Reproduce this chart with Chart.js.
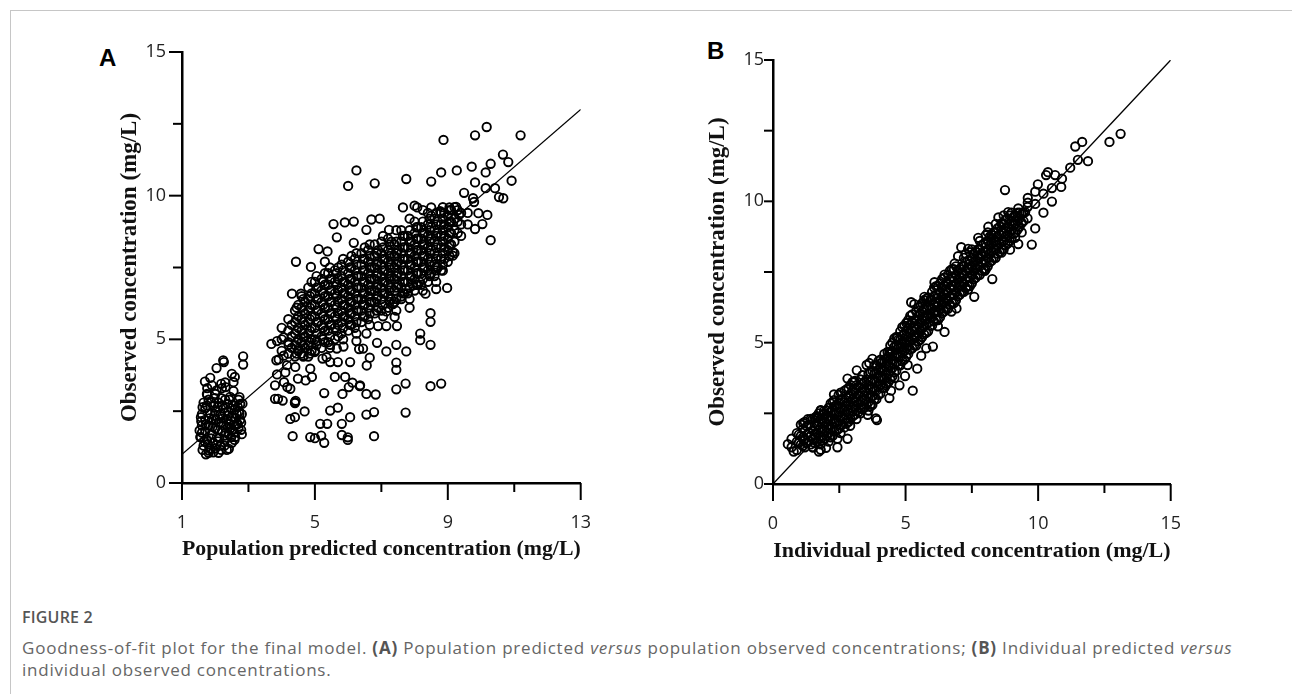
<!DOCTYPE html>
<html>
<head>
<meta charset="utf-8">
<script src="https://cdn.jsdelivr.net/npm/chart.js@4.4.0/dist/chart.umd.min.js"></script>
<style>
  html, body { margin:0; padding:0; background:#fff; }
  body { width:1292px; height:694px; overflow:hidden; position:relative; font-family:'Open Sans', sans-serif; }
  #frame { position:absolute; left:10px; top:10px; width:1400px; height:800px; border-left:1px solid #c6c6c6; border-top:1px solid #c6c6c6; }
  .panel { position:absolute; }
  .letter { position:absolute; font-family:'Liberation Sans', Arial, sans-serif; font-weight:bold; font-size:24px; line-height:24px; color:#000; }
  #figlabel { position:absolute; left:22px; top:606px; font-size:16px; line-height:22px; color:#555; font-weight:600; letter-spacing:0.2px; }
  #caption { position:absolute; left:22px; top:637px; font-size:17px; line-height:22px; color:#666; white-space:nowrap; letter-spacing:0.78px; }
  #caption b { color:#555; }
</style>
</head>
<body>
<div id="frame"></div>
<div class="letter" style="left:99px; top:46px;">A</div>
<div class="letter" style="left:707px; top:39px;">B</div>
<div class="panel" style="left:90px; top:20px; width:530px; height:570px;"><canvas id="chartA" width="530" height="570"></canvas></div>
<div class="panel" style="left:680px; top:20px; width:530px; height:570px;"><canvas id="chartB" width="530" height="570"></canvas></div>
<div id="figlabel">FIGURE 2</div>
<div id="caption">Goodness-of-fit plot for the final model. <b>(A)</b> Population predicted <i>versus</i> population observed concentrations; <b>(B)</b> Individual predicted <i>versus</i><br>individual observed concentrations.</div>

<script>
// ---------- Panel A: population predicted (x) vs observed (y) ----------
// dense core, stored as [x, [y values]] columns
const popCoreColumns = [
  [4.0,[4.6,5.0,5.4]],
  [4.2,[4.5,4.9,5.3,5.7]],
  [4.4,[4.4,4.8,5.2,5.6,6.0]],
  [4.6,[4.5,4.9,5.3,5.7,6.1,6.5]],
  [4.8,[4.4,4.8,5.2,5.6,6.0,6.4,6.8]],
  [5.0,[4.6,5.0,5.4,5.8,6.2,6.6,7.0]],
  [5.2,[4.7,5.1,5.5,5.9,6.3,6.7,7.1]],
  [5.4,[4.9,5.3,5.7,6.1,6.5,6.9,7.3]],
  [5.6,[5.0,5.4,5.8,6.2,6.6,7.0,7.4]],
  [5.8,[5.2,5.6,6.0,6.4,6.8,7.2,7.6]],
  [6.0,[5.3,5.7,6.1,6.5,6.9,7.3,7.7]],
  [6.2,[5.4,5.8,6.2,6.6,7.0,7.4,7.8]],
  [6.4,[5.6,6.0,6.4,6.8,7.2,7.6,8.0]],
  [6.6,[5.7,6.1,6.5,6.9,7.3,7.7,8.1]],
  [6.8,[5.9,6.3,6.7,7.1,7.5,7.9,8.3]],
  [7.0,[6.0,6.4,6.8,7.2,7.6,8.0,8.4]],
  [7.2,[6.1,6.5,6.9,7.3,7.7,8.1,8.5]],
  [7.4,[6.3,6.7,7.1,7.5,7.9,8.3]],
  [7.6,[6.4,6.8,7.2,7.6,8.0,8.4,8.8]],
  [7.8,[6.6,7.0,7.4,7.8,8.2,8.6]],
  [8.0,[6.7,7.1,7.5,7.9,8.3,8.7,9.1]],
  [8.2,[6.9,7.3,7.7,8.1,8.5,8.9]],
  [8.4,[7.0,7.4,7.8,8.2,8.6,9.0,9.4]],
  [8.6,[7.2,7.6,8.0,8.4,8.8,9.2]],
  [8.8,[7.4,7.8,8.2,8.6,9.0,9.4]],
  [9.0,[7.7,8.1,8.5,8.9,9.3]],
  [9.2,[8.0,8.4,8.8,9.2,9.6]],
  [9.4,[8.6,9.0,9.4]],
  [9.6,[9.0,9.4]],
  [5.1,[5.6,6.0,6.4,6.8]],
  [5.5,[5.5,5.9,6.3,6.7,7.1]],
  [5.9,[5.8,6.2,6.6,7.0]],
  [6.3,[6.0,6.4,6.8,7.2]],
  [6.7,[6.3,6.7,7.1,7.5]],
  [7.1,[6.6,7.0,7.4,7.8]],
  [7.5,[6.9,7.3,7.7,8.1]],
  [7.9,[7.2,7.6,8.0,8.4]],
  [8.3,[7.5,7.9,8.3,8.7]],
  [4.3,[4.7,5.1,5.5]],
  [4.5,[4.6,5.0,5.4,5.8,6.2]],
  [4.7,[4.7,5.1,5.5,5.9,6.3]],
  [4.9,[4.6,5.0,5.4,5.8,6.2,6.6,7.0]],
  [5.3,[4.9,5.3,5.7,6.1,6.5,6.9,7.3,7.7]],
  [5.7,[5.1,5.5,5.9,6.3,6.7,7.1,7.5]],
  [6.1,[5.5,5.9,6.3,6.7,7.1,7.5,7.9]],
  [6.5,[5.8,6.2,6.6,7.0,7.4,7.8,8.2]],
  [6.9,[6.1,6.5,6.9,7.3,7.7,8.1]],
  [7.3,[6.4,6.8,7.2,7.6,8.0,8.4]],
  [7.7,[6.6,7.0,7.4,7.8,8.2,8.6]],
  [8.1,[6.9,7.3,7.7,8.1,8.5,8.9]],
  [8.5,[7.3,7.7,8.1,8.5,8.9,9.3]],
  [8.7,[7.5,7.9,8.3,8.7,9.1]],
  [8.9,[7.8,8.2,8.6,9.0,9.4]],
  [9.1,[8.3,8.7,9.1,9.5]],
  [9.3,[8.7,9.1,9.5]],
  [4.45,[4.5,4.9,5.3,5.7,6.1]],
  [4.65,[4.4,4.8,5.2,5.6,6.0,6.4]],
  [4.85,[4.5,4.9,5.3,5.7,6.1,6.5]],
  [5.05,[4.8,5.2,5.6,6.0,6.4,6.8,7.2]],
  [5.25,[5.0,5.4,5.8,6.2,6.6,7.0]],
  [5.45,[4.7,5.1,5.5,5.9,6.3,6.7,7.1,7.5]],
  [5.65,[5.3,5.7,6.1,6.5,6.9,7.3]],
  [5.85,[5.0,5.4,5.8,6.2,6.6,7.0,7.4,7.8]],
  [6.05,[5.5,5.9,6.3,6.7,7.1,7.5]],
  [6.25,[5.2,5.6,6.0,6.4,6.8,7.2,7.6,8.0]],
  [6.45,[5.8,6.2,6.6,7.0,7.4,7.8]],
  [6.65,[5.5,5.9,6.3,6.7,7.1,7.5,7.9,8.3]],
  [6.85,[6.0,6.4,6.8,7.2,7.6,8.0]],
  [7.05,[5.8,6.2,6.6,7.0,7.4,7.8,8.2,8.6]],
  [7.25,[6.3,6.7,7.1,7.5,7.9,8.3]],
  [7.45,[6.0,6.4,6.8,7.2,7.6,8.0,8.4,8.8]],
  [7.65,[6.6,7.0,7.4,7.8,8.2,8.6]],
  [7.85,[6.4,6.8,7.2,7.6,8.0,8.4,8.8,9.2]],
  [8.05,[6.9,7.3,7.7,8.1,8.5,8.9]],
  [8.25,[6.7,7.1,7.5,7.9,8.3,8.7,9.1,9.5]],
  [8.45,[7.2,7.6,8.0,8.4,8.8,9.2]],
  [8.65,[7.0,7.4,7.8,8.2,8.6,9.0,9.4]],
  [8.85,[7.6,8.0,8.4,8.8,9.2,9.6]],
  [9.05,[7.9,8.3,8.7,9.1,9.5]]
];
// low-concentration cluster
const popLowCluster = [
  [1.55,1.6],[1.6,2.0],[1.6,2.4],[1.65,1.3],[1.7,1.8],[1.7,2.2],[1.7,2.6],[1.75,1.5],[1.8,2.0],[1.8,2.9],
  [1.85,1.2],[1.85,2.4],[1.9,1.7],[1.9,2.2],[1.95,1.4],[1.95,2.7],[2.0,1.9],[2.0,2.5],[2.0,3.1],[2.05,1.6],
  [2.1,2.1],[2.1,2.8],[2.15,1.3],[2.15,2.4],[2.2,1.8],[2.2,3.3],[2.25,2.0],[2.25,2.6],[2.3,1.5],[2.3,2.9],
  [2.35,2.2],[2.4,1.7],[2.4,2.5],[2.45,1.9],[2.45,3.0],[2.5,1.4],[2.5,2.3],[2.55,2.7],[2.6,2.0],[2.6,1.6],
  [2.65,2.4],[2.7,2.9],[2.7,1.9],[2.75,2.2],[2.75,2.75],[2.8,1.7],[2.78,2.1],[2.8,2.4],[2.0,1.2],[1.9,3.4],
  [2.3,3.5],[1.75,3.1],[2.55,3.2],[1.65,2.8],[2.1,1.05],[2.35,1.15],[1.8,1.05],
  [1.6,1.75],[1.72,2.05],[1.82,2.25],[1.92,1.95],[2.02,2.2],[2.12,1.55],[2.22,2.25],[2.32,1.75],[2.42,2.05],
  [2.52,1.85],[2.62,2.25],[2.72,2.5],[1.78,1.35],[2.08,2.65],[2.38,2.75],[2.18,2.95],[1.98,2.95],[2.48,2.6],
  [2.28,1.3],[2.58,1.5],
  [1.58,2.15],[1.68,1.45],[1.75,2.7],[1.88,1.55],[1.88,2.8],[1.98,2.35],[2.08,1.45],[2.08,1.85],[2.18,2.1],
  [2.18,1.15],[2.28,2.45],[2.28,1.65],[2.38,1.95],[2.38,2.35],[2.48,1.6],[2.48,2.15],[2.58,1.75],[2.58,2.55],
  [2.68,2.05],[2.68,2.65],[2.78,1.85],[1.62,1.15],[1.72,1.0],[2.22,2.7],[2.42,2.9],
  [2.84,4.41],[2.84,4.12],[2.24,4.27],[2.26,4.21],[2.04,4.0],[1.85,3.66],[1.69,3.53],[1.76,3.30],[1.76,3.07],
  [2.5,3.80],[2.59,3.69],[2.55,3.51],[2.31,3.34],[2.73,2.99],[2.82,2.76],[2.18,3.45],[2.04,3.22],[1.62,2.64],
  [1.57,2.29],[1.53,1.83],[1.57,1.59],[1.81,1.13],[1.94,1.07],[2.41,1.19],[2.64,2.06],[2.73,2.41]
];
// scattered points around the main cloud
const popScatter = [
  [4.43,7.70],[3.69,4.84],[3.84,4.27],[3.80,3.40],[3.80,2.93],[4.03,2.87],[4.40,2.78],[4.26,2.23],[4.40,2.29],
  [4.69,2.49],[4.33,1.63],[4.86,1.60],[5.00,1.56],[5.19,1.65],[5.28,1.40],[5.16,2.06],[5.37,2.06],[5.46,2.52],
  [5.69,2.62],[5.81,2.06],[5.81,1.67],[5.99,1.59],[5.99,1.50],[6.06,2.29],[6.55,2.38],[6.78,2.47],[6.78,1.63],
  [5.28,3.13],[5.60,3.69],[5.91,3.69],[5.83,3.10],[6.02,3.34],[6.13,3.49],[6.36,3.40],[6.55,3.10],[6.83,3.08],
  [4.86,3.98],[4.91,3.69],[4.72,3.57],[4.49,3.63],[4.26,3.28],[4.17,3.34],[4.40,2.81],[4.42,2.86],[3.89,2.93],
  [5.46,4.21],[5.69,4.21],[6.06,4.21],[6.56,4.09],[5.23,4.33],[5.35,4.38],[5.00,4.56],[4.07,3.51],[3.86,3.78],
  [8.87,11.94],[9.82,12.10],[10.17,12.39],[11.19,12.10],[6.25,10.88],[6.00,10.34],[6.80,10.43],[7.75,10.58],
  [8.50,10.49],[8.80,10.81],[9.27,10.88],[9.72,11.01],[10.29,11.11],[10.66,11.43],[10.82,11.17],[9.82,10.46],
  [10.14,10.81],[10.92,10.52],[10.14,10.26],[10.42,10.26],[10.54,9.95],[10.67,9.91],[9.49,10.10],[9.76,9.91],
  [9.79,9.78],[9.92,9.39],[10.19,9.33],[9.82,8.84],[10.04,9.01],[10.29,8.45],[9.15,8.04],[5.56,9.01],[6.17,9.10],
  [6.70,9.17],[6.95,9.20],[4.31,6.59],[4.58,6.59],[5.11,8.14],[5.38,8.06],
  [7.40,5.78],[7.15,5.46],[7.47,5.46],[7.45,4.81],[7.85,6.10],[8.48,5.91],[8.48,5.61],[8.17,5.20],[8.17,4.97],
  [8.48,4.81],[7.75,4.58],[8.65,6.75],[8.98,6.79],[8.33,6.59],[6.33,4.66],[6.65,4.36],[6.87,4.88],[7.15,4.58],
  [7.45,4.19],[7.45,3.94],[7.45,3.26],[7.73,3.46],[7.73,2.45],[8.48,3.37],[8.80,3.46],[6.35,3.37],
  [4.88,7.52],[5.66,8.55],[5.90,9.07],[6.17,8.36],[6.55,8.81],[7.23,8.81],[7.65,9.59],[8.00,9.65],[8.08,9.59],
  [8.50,9.59],[8.77,9.46],[9.05,9.59],[9.25,9.61],[9.34,9.33],[9.05,9.07],
  [4.66,5.07],[5.06,4.94],[5.46,4.81],[5.66,4.68],[5.86,4.75],[6.25,4.94],[6.55,5.20],[6.45,4.68],[6.90,5.46],
  [7.15,5.97],[7.35,6.23],[7.60,6.49],[7.75,6.75],[7.95,6.88],[8.15,7.00],[8.45,7.26],[8.65,7.52],[8.85,7.39],
  [9.15,7.91],
  [3.86,4.94],[4.06,5.07],[4.21,4.81],[4.06,4.43],[3.91,4.30],[4.16,4.10],[4.41,4.04],[4.11,3.85],[4.66,4.43],
  [4.51,4.68]
];
const popLine = [[1,1],[13,13]];

// ---------- Panel B: individual predicted (x) vs observed (y) ----------
const indCoreColumns = [
  [0.7,[1.3,1.6]],[0.9,[1.2,1.5,1.8]],[1.05,[1.4,1.7,2.1]],[1.2,[1.3,1.6,1.9,2.2]],[1.35,[1.5,1.8,2.1]],
  [1.5,[1.3,1.6,1.9,2.3]],[1.65,[1.5,1.8,2.1,2.4]],[1.8,[1.4,1.7,2.0,2.3,2.6]],[1.95,[1.6,1.9,2.2,2.5]],
  [2.1,[1.5,1.8,2.1,2.4,2.7]],[2.25,[1.7,2.0,2.3,2.6,2.9]],[2.4,[1.9,2.2,2.5,2.8]],[2.55,[1.8,2.1,2.4,2.7,3.0]],
  [2.7,[2.0,2.3,2.6,2.9,3.3]],[2.85,[2.2,2.5,2.8,3.1,3.4]],[3.0,[2.4,2.7,3.0,3.3,3.6]],[3.15,[2.3,2.6,2.9,3.2,3.5]],
  [3.3,[2.5,2.8,3.1,3.4,3.7]],[3.45,[2.7,3.0,3.3,3.6]],[3.6,[2.6,2.9,3.2,3.5,3.9]],[3.75,[2.8,3.1,3.4,3.7,4.0]],
  [3.9,[3.0,3.3,3.6,3.9,4.2]],[4.05,[3.2,3.5,3.8,4.1,4.4]],[4.2,[3.4,3.7,4.0,4.3,4.6]],[4.35,[3.6,3.9,4.2,4.5]],
  [4.5,[3.8,4.1,4.4,4.7,5.0]],[4.65,[4.0,4.3,4.6,4.9,5.2]],[4.8,[4.2,4.5,4.8,5.1,5.4]],[4.95,[4.4,4.7,5.0,5.3,5.6]],
  [5.1,[4.6,4.9,5.2,5.5,5.8]],[5.25,[4.8,5.1,5.4,5.7,6.0]],[5.4,[4.9,5.2,5.5,5.8,6.1]],[5.55,[5.1,5.4,5.7,6.0,6.3]],
  [5.7,[5.3,5.6,5.9,6.2,6.5]],[5.85,[5.4,5.7,6.0,6.3,6.6]],[6.0,[5.6,5.9,6.2,6.5,6.8]],[6.15,[5.8,6.1,6.4,6.7,7.0]],
  [6.3,[5.9,6.2,6.5,6.8,7.1]],[6.45,[6.1,6.4,6.7,7.0,7.3]],[6.6,[6.2,6.5,6.8,7.1,7.4]],[6.75,[6.4,6.7,7.0,7.3,7.6]],
  [6.9,[6.5,6.8,7.1,7.4,7.7]],[7.05,[6.7,7.0,7.3,7.6]],[7.2,[6.8,7.1,7.4,7.7,8.0]],[7.35,[7.0,7.3,7.6,7.9]],
  [7.5,[7.1,7.4,7.7,8.0,8.3]],[7.65,[7.3,7.6,7.9,8.2]],[7.8,[7.4,7.7,8.0,8.3,8.6]],[7.95,[7.6,7.9,8.2,8.5]],
  [8.1,[7.7,8.0,8.3,8.6,8.9]],[8.25,[7.9,8.2,8.5,8.8]],[8.4,[8.0,8.3,8.6,8.9,9.2]],[8.55,[8.2,8.5,8.8,9.1]],
  [8.7,[8.3,8.6,8.9,9.2,9.5]],[8.85,[8.5,8.8,9.1,9.4]],[9.0,[8.7,9.0,9.3,9.6]],[9.15,[8.9,9.2,9.5]],
  [9.3,[9.1,9.4,9.6]],[9.45,[9.3,9.6]],[9.6,[9.4,9.8]],
  [0.975,[1.45,1.75]],[1.275,[1.45,1.75,2.05]],[1.575,[1.45,1.75,2.05,2.35]],[1.875,[1.55,1.85,2.15,2.45]],
  [2.175,[1.65,1.95,2.25,2.55,2.85]],[2.475,[1.95,2.25,2.55,2.85,3.15]],[2.775,[2.15,2.45,2.75,3.05,3.35]],
  [3.075,[2.45,2.75,3.05,3.35,3.65]],[3.375,[2.65,2.95,3.25,3.55,3.85]],[3.675,[2.75,3.05,3.35,3.65,3.95]],
  [3.975,[3.15,3.45,3.75,4.05,4.35]],[4.275,[3.55,3.85,4.15,4.45]],[4.575,[3.95,4.25,4.55,4.85,5.15]],
  [4.875,[4.35,4.65,4.95,5.25,5.55]],[5.175,[4.75,5.05,5.35,5.65,5.95]],[5.475,[5.05,5.35,5.65,5.95,6.25]],
  [5.775,[5.35,5.65,5.95,6.25,6.55]],[6.075,[5.75,6.05,6.35,6.65,6.95]],[6.375,[6.05,6.35,6.65,6.95,7.25]],
  [6.675,[6.35,6.65,6.95,7.25,7.55]],[6.975,[6.65,6.95,7.25,7.55]],[7.275,[6.95,7.25,7.55,7.85,8.15]],
  [7.575,[7.25,7.55,7.85,8.15]],[7.875,[7.55,7.85,8.15,8.45]],[8.175,[7.85,8.15,8.45,8.75]],
  [8.475,[8.15,8.45,8.75,9.05]],[8.775,[8.45,8.75,9.05,9.35]],[9.075,[8.85,9.15,9.45]],[9.375,[9.25,9.55]],
  [1.125,[1.35,1.65,1.95]],[1.425,[1.4,1.7,2.0,2.3]],[1.725,[1.6,1.9,2.2,2.5]],[2.025,[1.7,2.0,2.3,2.6]],
  [2.325,[1.85,2.15,2.45,2.75]],[2.625,[2.1,2.4,2.7,3.0]],[2.925,[2.3,2.6,2.9,3.2,3.5]],[3.225,[2.55,2.85,3.15,3.45]],
  [3.525,[2.8,3.1,3.4,3.7]],[3.825,[3.0,3.3,3.6,3.9,4.2]],[4.125,[3.4,3.7,4.0,4.3]],[4.425,[3.7,4.0,4.3,4.6,4.9]],
  [4.725,[4.2,4.5,4.8,5.1]],[5.025,[4.5,4.8,5.1,5.4,5.7]],[5.325,[4.9,5.2,5.5,5.8]],[5.625,[5.2,5.5,5.8,6.1,6.4]],
  [5.925,[5.6,5.9,6.2,6.5]],[6.225,[5.8,6.1,6.4,6.7,7.0]],[6.525,[6.2,6.5,6.8,7.1]],[6.825,[6.4,6.7,7.0,7.3,7.6]],
  [7.125,[6.8,7.1,7.4,7.7]],[7.425,[7.0,7.3,7.6,7.9,8.2]],[7.725,[7.4,7.7,8.0,8.3]],[8.025,[7.6,7.9,8.2,8.5,8.8]],
  [8.325,[8.0,8.3,8.6,8.9]],[8.625,[8.3,8.6,8.9,9.2]],[8.925,[8.6,8.9,9.2,9.5]],[9.225,[9.0,9.3,9.6]]
];
const indScatter = [
  [13.11,12.39],[12.69,12.10],[11.66,12.10],[11.40,11.94],[11.88,11.42],[11.50,11.47],[11.21,11.19],[10.37,11.03],
  [10.30,10.93],[10.64,10.93],[10.90,10.80],[10.87,10.51],[10.52,10.47],[10.52,9.99],[10.20,10.27],[9.89,10.34],
  [9.99,10.60],[8.75,10.40],[9.61,10.12],[9.61,9.95],[9.89,9.91],[10.20,9.60],[9.89,9.04],[9.76,8.47],[9.25,8.49],
  [8.94,8.29],[8.27,7.25],[7.59,6.62],[6.92,6.21],[7.10,8.38],[5.21,6.43],[6.47,5.38],[6.03,4.86],[5.78,4.80],
  [5.44,4.08],[5.27,3.30],[4.98,3.82],[4.39,3.04],[4.45,3.30],[3.92,2.26],[3.69,2.82],[3.63,4.28],[3.75,4.43],
  [3.53,4.21],[3.16,4.02],[2.91,2.06],[2.81,1.60],[2.43,1.60],[1.80,1.21],[2.00,1.28],[1.50,1.30],[1.73,1.15],
  [0.78,1.15],[0.56,1.41],[1.16,1.56],[1.14,2.16],[1.31,2.29],[1.80,2.61],[2.30,3.17],[2.81,3.73],[2.43,1.30],
  [3.57,2.45],[3.88,2.32],[3.31,2.71],[4.26,3.49],[4.58,3.75],[4.77,3.49],[5.08,4.21],[5.59,4.54],[5.33,5.19],
  [4.39,4.67],[4.07,4.28],[4.83,4.86],[5.59,5.71],[6.09,6.10],[6.35,6.62],[6.73,7.01],[6.85,7.80],[7.36,7.67],
  [7.86,8.06],[8.24,8.71],[8.62,9.23],[9.13,9.49],[9.38,9.23],[9.13,8.71],[9.38,8.90],[8.62,8.19],[7.99,7.54],
  [7.36,6.88],[6.73,6.10],[6.22,5.58],
  [1.67,2.32],[1.92,2.58],[2.30,2.97],[2.55,3.23],[3.06,3.62],[4.32,4.67],[4.70,5.19],[5.08,5.71],[5.33,6.36],
  [5.71,6.62],[6.09,7.14],[6.47,7.41],[6.98,8.06],[7.36,8.32],[7.74,8.71],[8.12,9.10],[8.50,9.43],[8.87,9.62],
  [9.25,9.75],[9.51,9.62]
];
const indLine = [[0,0],[15,15]];

// ---------- axis tick labels ----------
const popXTickLabels = [1, 5, 9, 13];
const indXTickLabels = [0, 5, 10, 15];
const yTickLabels = [0, 5, 10, 15];

// ---------- helpers ----------
const fromColumns = cols => { const out = []; cols.forEach(([x, ys]) => ys.forEach(y => out.push({x, y}))); return out; };
const fromPairs = pairs => pairs.map(([x, y]) => ({x, y}));

const tickMarks = {
  id: 'tickMarks',
  afterDraw(chart, args, o) {
    const ctx = chart.ctx, xs = chart.scales.x, ys = chart.scales.y, area = chart.chartArea;
    ctx.save();
    ctx.strokeStyle = '#000';
    ctx.lineWidth = 2;
    xs.ticks.forEach((t, i) => {
      const px = xs.getPixelForTick(i);
      const len = o.xLabels.includes(t.value) ? o.xMajor : o.minor;
      ctx.beginPath(); ctx.moveTo(px, area.bottom); ctx.lineTo(px, area.bottom + len); ctx.stroke();
    });
    ys.ticks.forEach((t, i) => {
      const py = ys.getPixelForTick(i);
      const len = o.yLabels.includes(t.value) ? o.yMajor : o.minor;
      ctx.beginPath(); ctx.moveTo(area.left, py); ctx.lineTo(area.left - len, py); ctx.stroke();
    });
    ctx.restore();
  }
};

function makeChart(id, pts, line, xr, xStep, xLabels, xTitle, yTitle, geo) {
  new Chart(document.getElementById(id), {
    type: 'scatter',
    data: {
      datasets: [
        { type: 'line', data: fromPairs(line), borderColor: '#000', borderWidth: 1.3, pointRadius: 0, fill: false, order: 0 },
        { data: pts, pointRadius: 4.2, pointBorderWidth: 1.9, pointBackgroundColor: 'rgba(0,0,0,0)', pointBorderColor: '#000', pointHoverRadius: 4.2, order: 1 }
      ]
    },
    options: {
      responsive: false,
      animation: false,
      events: [],
      layout: { padding: { left: 0, top: geo.padTop, right: geo.padRight, bottom: 0 } },
      plugins: { legend: { display: false }, tooltip: { enabled: false },
                 tickMarks: { xLabels, yLabels: yTickLabels, xMajor: 17, yMajor: geo.yMajor, minor: 9 } },
      scales: {
        x: {
          type: 'linear', min: xr[0], max: xr[1],
          afterFit: s => { s.height = geo.xH; },
          grid: { display: true, drawOnChartArea: false, drawTicks: false },
          border: { display: true, color: '#000', width: 2.5 },
          ticks: { stepSize: xStep, autoSkip: false, maxRotation: 0, padding: 29, color: '#222',
                   font: { family: "'Open Sans', sans-serif", size: 18 },
                   callback: v => xLabels.includes(v) ? String(v) : '' },
          title: { display: true, text: xTitle, color: '#111', padding: { top: 0, bottom: geo.xTitlePad },
                   font: { family: "'Liberation Serif', 'Times New Roman', serif", size: 22, weight: 'bold' } }
        },
        y: {
          type: 'linear', min: 0, max: 15,
          afterFit: s => { s.width = geo.yW; },
          grid: { display: true, drawOnChartArea: false, drawTicks: false },
          border: { display: true, color: '#000', width: 2.5 },
          ticks: { stepSize: 2.5, autoSkip: false, padding: geo.yTickPad, color: '#222',
                   font: { family: "'Open Sans', sans-serif", size: 18 },
                   callback: v => yTickLabels.includes(v) ? String(v) : '' },
          title: { display: true, text: yTitle, color: '#111', padding: { top: geo.yTitlePad, bottom: 0 },
                   font: { family: "'Liberation Serif', 'Times New Roman', serif", size: 23, weight: 'bold' } }
        }
      }
    },
    plugins: [tickMarks]
  });
}

const popPoints = fromColumns(popCoreColumns).concat(fromPairs(popLowCluster), fromPairs(popScatter));
const indPoints = fromColumns(indCoreColumns).concat(fromPairs(indScatter));

makeChart('chartA', popPoints, popLine, [1, 13], 2, popXTickLabels,
  'Population predicted concentration (mg/L)', 'Observed concentration (mg/L)',
  { padTop: 32, padRight: 33, xH: 107, yW: 92, xTitlePad: 27, yTitlePad: 26, yTickPad: 16, yMajor: 13 });
makeChart('chartB', indPoints, indLine, [0, 15], 2.5, indXTickLabels,
  'Individual predicted concentration (mg/L)', 'Observed concentration (mg/L)',
  { padTop: 40, padRight: 37, xH: 106, yW: 93, xTitlePad: 25, yTitlePad: 24, yTickPad: 9, yMajor: 9 });
</script>
</body>
</html>
